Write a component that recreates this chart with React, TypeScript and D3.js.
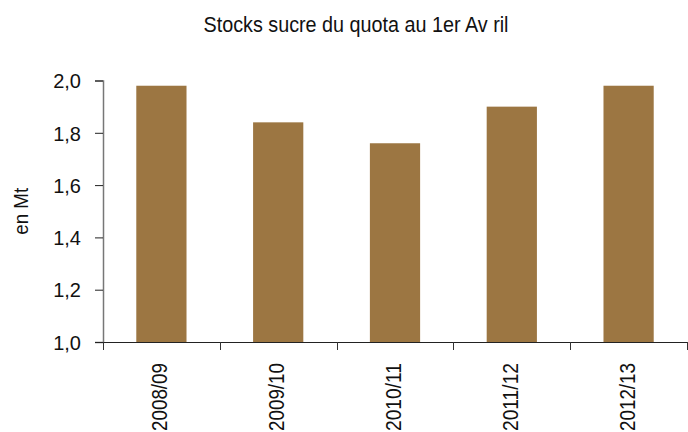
import { useRef, useEffect } from 'react';
import * as d3 from "d3";

const categories = ["2008/09", "2009/10", "2010/11", "2011/12", "2012/13"];
const stocks = [1.98, 1.84, 1.76, 1.90, 1.98];
const yTicks = [1.0, 1.2, 1.4, 1.6, 1.8, 2.0];

const title = "Stocks sucre du quota au 1er Av ril";
const yLabel = "en Mt";

const W = 688, H = 432;
const left = 103, right = 687, top = 80.5, bottom = 342;
const font = "Liberation Sans, Arial, sans-serif";

const App = () => {
  const ref = useRef<SVGSVGElement>(null);

  useEffect(() => {
    const $svg = d3.select(ref.current);
    $svg.selectAll("*").remove();

    const x = d3.scaleBand().domain(categories).range([left, right]).paddingInner(0.57).paddingOuter(0.285);
    const xAxisBand = d3.scaleBand().domain(categories).range([left, right]);
    const y = d3.scaleLinear().domain([1.0, 2.0]).range([bottom, top]);
    const fmt = (d: number) => d3.format(".1f")(d).replace(".", ",");

    // bars
    $svg.append("g").selectAll("rect").data(stocks).enter().append("rect")
      .attr("x", (d, i) => x(categories[i]))
      .attr("y", d => y(d))
      .attr("width", x.bandwidth())
      .attr("height", d => y(1.0) - y(d))
      .attr("fill", "#9c7642");

    // y axis
    const yAxis = $svg.append("g").attr("transform", `translate(${left},0)`)
      .call(d3.axisLeft(y).tickValues(yTicks).tickFormat(fmt as any).tickSize(8).tickPadding(14));
    yAxis.select(".domain").attr("stroke", "#777").attr("stroke-width", 1.5);
    yAxis.selectAll(".tick line").attr("stroke", "#222");
    yAxis.selectAll("text").attr("font-family", font)
      .attr("font-size", 20).attr("fill", "#111").attr("dy", "0.36em");

    // x axis
    const edges = [...categories.map(c => xAxisBand(c) as number), right];
    $svg.append("line").attr("x1", left).attr("x2", right).attr("y1", bottom + 0.5).attr("y2", bottom + 0.5)
      .attr("stroke", "#222");
    $svg.append("g").selectAll("line").data(edges).enter().append("line")
      .attr("x1", d => Math.round(d) + 0.5).attr("x2", d => Math.round(d) + 0.5)
      .attr("y1", bottom).attr("y2", bottom + 8).attr("stroke", "#333");
    $svg.append("g").selectAll("text").data(categories).enter().append("text")
      .attr("transform", d => `translate(${(xAxisBand(d) as number) + xAxisBand.bandwidth() / 2 + 6},${bottom + 21}) rotate(-90)`)
      .attr("text-anchor", "end")
      .attr("font-family", font)
      .attr("font-size", 22).attr("fill", "#111")
      .attr("textLength", 68).attr("lengthAdjust", "spacingAndGlyphs")
      .text(d => d);

    // y label
    $svg.append("text")
      .attr("transform", `translate(28,${(top + bottom) / 2}) rotate(-90)`)
      .attr("text-anchor", "middle")
      .attr("font-family", font)
      .attr("font-size", 20).attr("fill", "#111")
      .attr("textLength", 47).attr("lengthAdjust", "spacingAndGlyphs")
      .text(yLabel);

    // title
    $svg.append("text")
      .attr("x", 356).attr("y", 32)
      .attr("text-anchor", "middle")
      .attr("font-family", font)
      .attr("font-size", 22).attr("fill", "#111")
      .attr("textLength", 305).attr("lengthAdjust", "spacingAndGlyphs")
      .text(title);
  }, []);

  return <svg ref={ref} width={W} height={H} style={{ position: "absolute", left: 0, top: 0, background: "#fff" }} />;
};

export default App;
